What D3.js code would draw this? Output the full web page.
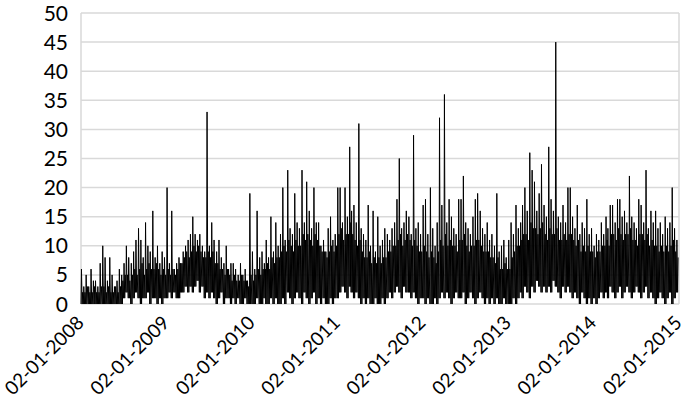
<!DOCTYPE html>
<html>
<head>
<meta charset="utf-8">
<script src="https://cdn.jsdelivr.net/npm/d3@7"></script>
<style>
  body { margin: 0; background: #fff; }
  text { font-family: Lato, "Open Sans", sans-serif; fill: #000; }
</style>
</head>
<body>
<div id="chart"></div>
<script>
// ten-day (dekad) values, 36 per year:
// hi = tallest spike, core = top of the dense band, lo = lowest dip
var hi2008 = [6,3,5,3,6,4,4,3,7,10,8,4,8,5,3,4,6,5,7,10,8,7,9,11,13,11,8,14,10,9,16,8,10,7,9,8];
var core2008 = [2,2,3,2,2,3,2,2,3,3,2,3,2,2,3,2,3,4,5,5,4,5,6,5,6,7,5,6,7,6,6,7,6,5,6,5];
var lo2008 = [0,0,0,0,0,0,0,0,0,0,0,0,0,0,0,0,0,0,1,2,1,0,1,2,1,0,1,1,2,0,1,1,0,1,0,1];
var hi2009 = [20,7,16,6,7,8,7,9,10,11,12,15,12,11,12,10,9,33,10,14,11,9,11,8,7,10,6,7,7,6,5,7,5,6,4,19];
var core2009 = [6,5,6,5,6,7,7,8,9,8,9,10,9,10,9,8,8,9,8,9,7,7,6,6,5,6,5,4,5,4,4,5,4,4,3,5];
var lo2009 = [1,2,1,2,1,1,2,2,3,2,3,2,3,4,2,3,1,2,1,2,1,0,1,2,0,1,1,0,1,0,1,0,0,1,0,0];
var hi2010 = [9,6,16,8,9,7,11,8,15,9,14,10,12,20,11,23,13,12,19,14,13,23,14,21,16,13,20,14,14,10,11,9,13,15,11,12];
var core2010 = [4,5,6,5,6,6,7,6,8,7,8,8,9,10,9,11,10,9,11,10,10,12,11,12,11,10,12,11,10,9,9,8,9,10,9,10];
var lo2010 = [0,0,1,0,0,1,0,0,1,0,1,0,0,1,0,2,1,0,1,2,1,0,2,1,0,1,2,0,1,0,1,0,0,1,0,1];
var hi2011 = [20,20,14,20,15,27,16,17,14,31,13,12,11,17,10,16,9,15,10,11,13,12,11,13,14,18,25,13,14,16,15,12,29,13,14,12];
var core2011 = [12,13,11,12,12,14,12,11,10,11,9,8,8,9,7,8,7,8,7,8,8,9,9,10,10,11,12,10,11,12,11,10,11,10,9,9];
var lo2011 = [1,2,3,2,1,3,2,1,2,1,0,1,0,1,0,0,1,0,0,1,0,1,2,1,2,3,2,1,3,2,2,1,2,1,0,1];
var hi2012 = [17,18,12,20,13,10,14,32,17,36,14,18,15,13,12,18,18,22,14,13,12,15,18,19,16,13,12,14,11,12,10,19,9,10,11,8];
var core2012 = [10,9,8,9,8,7,9,11,10,12,10,11,10,10,9,11,11,12,10,9,10,10,11,11,10,9,9,9,8,8,7,8,6,6,7,6];
var lo2012 = [1,0,1,0,0,1,0,1,2,1,2,1,0,1,2,1,1,2,0,1,2,1,0,1,2,1,0,1,0,1,0,1,0,0,1,0];
var hi2013 = [11,14,12,17,13,14,17,20,16,26,23,21,16,19,24,17,15,27,18,16,45,15,14,17,14,20,20,15,13,17,12,14,13,18,12,13];
var core2013 = [6,8,9,10,10,11,12,12,11,14,13,13,12,13,14,12,11,13,12,12,13,11,11,12,11,12,12,11,10,11,9,10,9,10,9,9];
var lo2013 = [0,0,1,0,1,2,1,3,2,1,3,2,4,3,2,3,2,3,2,4,3,2,1,3,2,3,2,1,2,1,0,2,1,0,1,0];
var hi2014 = [10,12,11,14,12,15,13,17,17,14,18,18,15,16,14,22,15,14,13,18,17,14,23,13,16,14,16,13,14,12,15,13,14,20,13,11];
var core2014 = [8,9,9,10,10,11,10,12,12,11,13,12,11,12,12,13,11,11,10,12,12,11,12,10,11,10,10,9,10,9,10,9,10,11,9,8];
var lo2014 = [1,0,1,2,1,2,1,3,2,1,2,3,1,2,3,2,1,2,3,2,1,2,3,1,2,1,0,1,2,1,0,1,2,0,1,2];

var years = [2008, 2009, 2010, 2011, 2012, 2013, 2014];
var highs = [hi2008, hi2009, hi2010, hi2011, hi2012, hi2013, hi2014];
var cores = [core2008, core2009, core2010, core2011, core2012, core2013, core2014];
var lows = [lo2008, lo2009, lo2010, lo2011, lo2012, lo2013, lo2014];
var yTicks = [0, 5, 10, 15, 20, 25, 30, 35, 40, 45, 50];
var xTickYears = [2008, 2009, 2010, 2011, 2012, 2013, 2014, 2015];

var width = 685, height = 404;
var margin = {top: 13, right: 6, bottom: 100, left: 81};

var svg = d3.select("#chart")
    .append("svg")
    .attr("width", width)
    .attr("height", height);

// build the series: within each dekad the line dips to lo, climbs to the spike,
// dips again and returns to the top of the dense band
var data = [];
years.forEach(function (yr, k) {
    for (var i = 0; i < 36; i++) {
        var m = Math.floor(i / 3), d0 = 1 + (i % 3) * 10;
        data.push({date: new Date(yr, m, d0 + 1), value: lows[k][i]});
        data.push({date: new Date(yr, m, d0 + 3), value: highs[k][i]});
        data.push({date: new Date(yr, m, d0 + 6), value: lows[k][i]});
        data.push({date: new Date(yr, m, d0 + 8), value: cores[k][i]});
    }
});

var x = d3.scaleTime()
    .domain([new Date(2008, 0, 2), new Date(2015, 0, 2)])
    .range([margin.left, width - margin.right]);

var y = d3.scaleLinear()
    .domain([0, 50])
    .range([304, margin.top]);

// gridlines
svg.append("g")
    .selectAll("line")
    .data(yTicks)
    .enter()
    .append("line")
    .attr("x1", margin.left)
    .attr("x2", width - margin.right)
    .attr("y1", function (d) { return y(d); })
    .attr("y2", function (d) { return y(d); })
    .attr("stroke", "#d9d9d9")
    .attr("stroke-width", 1.5);

// plot frame sides
[margin.left, width - margin.right].forEach(function (px) {
    svg.append("line")
        .attr("x1", px).attr("x2", px)
        .attr("y1", y(50)).attr("y2", y(0))
        .attr("stroke", "#d9d9d9")
        .attr("stroke-width", 1.5);
});

// y labels
svg.append("g")
    .selectAll("text")
    .data(yTicks)
    .enter()
    .append("text")
    .attr("x", 68)
    .attr("y", function (d) { return y(d); })
    .attr("dy", "0.36em")
    .attr("text-anchor", "end")
    .style("font-size", "21px")
    .text(function (d) { return d; });

// x labels, rotated
svg.append("g")
    .selectAll("text")
    .data(xTickYears)
    .enter()
    .append("text")
    .attr("transform", function (d) {
        return "translate(" + (x(new Date(d, 0, 2)) + 4) + ",324) rotate(-45)";
    })
    .attr("text-anchor", "end")
    .style("font-size", "19px")
    .text(function (d) { return "02-01-" + d; });

// the series
var line = d3.line()
    .x(function (d) { return x(d.date); })
    .y(function (d) { return y(d.value); });

svg.append("path")
    .datum(data)
    .attr("fill", "none")
    .attr("stroke", "#000")
    .attr("stroke-width", 1)
    .attr("d", line);
</script>
</body>
</html>
